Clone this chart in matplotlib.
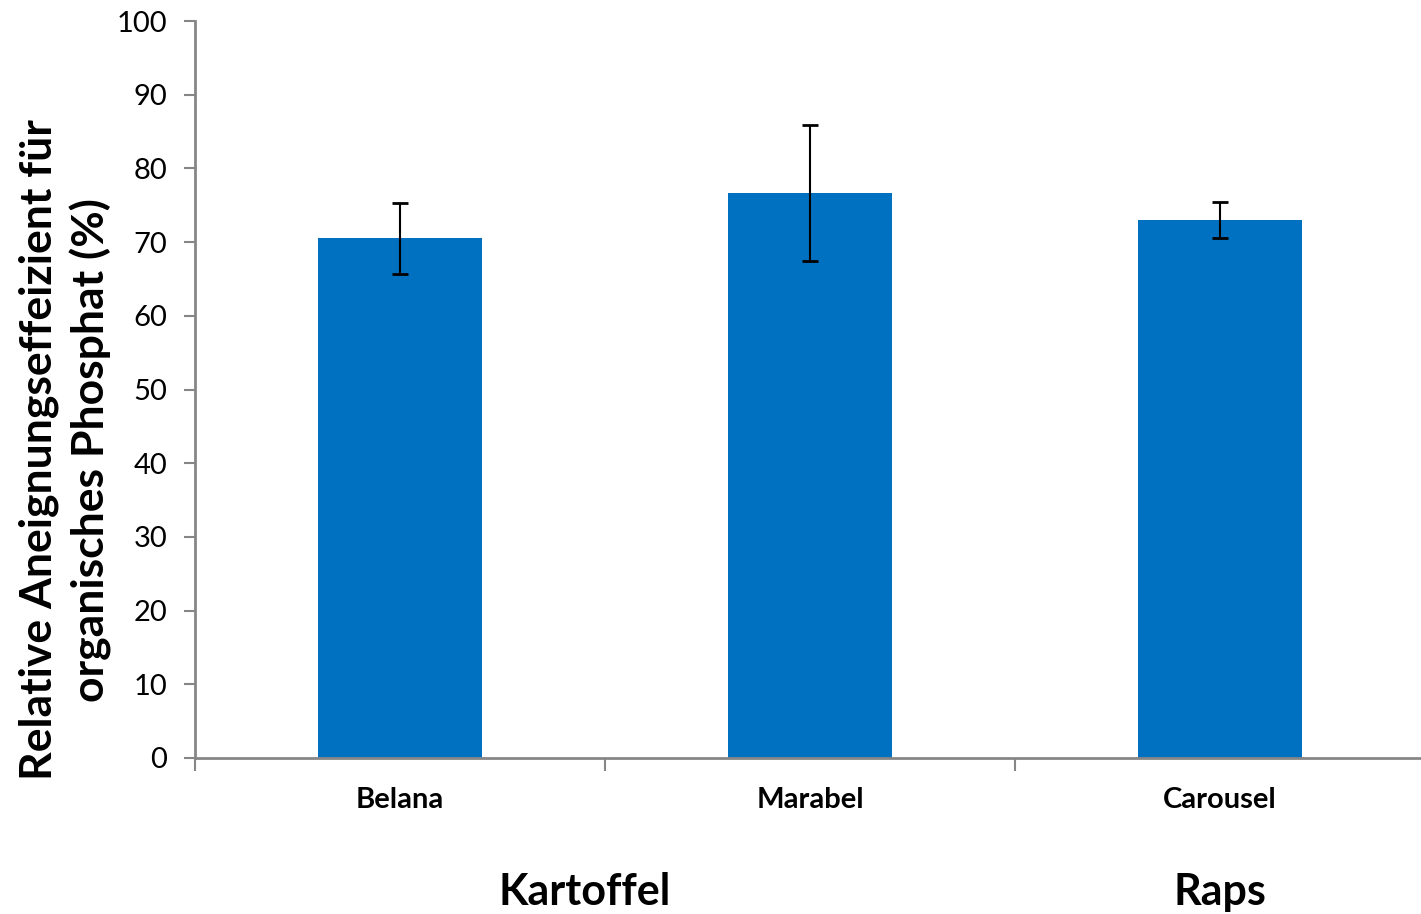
import numpy as np
import matplotlib
matplotlib.use("Agg")
import matplotlib.pyplot as plt

plt.rcParams['font.family'] = ['Lato', 'DejaVu Sans']

# data
sorten = ['Belana', 'Marabel', 'Carousel']
werte = [70.5, 76.7, 73.0]
fehler = [4.85, 9.25, 2.4]
gruppen = ['Kartoffel', 'Raps']
gruppen_pos = [0.45, 2.0]
yticks = [0, 10, 20, 30, 40, 50, 60, 70, 80, 90, 100]

grau = '#868686'

fig = plt.figure(figsize=(14.21, 9.14), dpi=100)
ax = fig.add_axes([195 / 1421, 0.1707, 1230 / 1421, 0.8063])

x = np.arange(len(sorten))
ax.bar(x, werte, width=0.4, color='#0070C0', zorder=2)
ax.errorbar(x, werte, yerr=fehler, fmt='none', ecolor='black', elinewidth=1.5,
            capsize=6, capthick=2, zorder=3)

ax.set_xlim(-0.5, 2.5)
ax.set_ylim(0, 100)
ax.set_yticks(yticks)
ax.tick_params(axis='y', labelsize=21, length=8, width=1.5, color=grau, pad=12)

# category labels, ticks on boundaries
ax.set_xticks(x)
ax.set_xticklabels(sorten, fontsize=21, fontweight='bold')
ax.tick_params(axis='x', which='major', length=0, pad=21)
ax.set_xticks([-0.5, 0.5, 1.5, 2.5], minor=True)
ax.tick_params(axis='x', which='minor', length=9, width=1.5, color=grau)

for s in ['top', 'right']:
    ax.spines[s].set_visible(False)
for s in ['left', 'bottom']:
    ax.spines[s].set_color(grau)
    ax.spines[s].set_linewidth(2)

for g, p in zip(gruppen, gruppen_pos):
    ax.text(p, -0.182, g, transform=ax.get_xaxis_transform(), ha='center', va='center',
            fontsize=31, fontweight='bold')

fig.text(65 / 1421, 1 - 450 / 914, 'Relative Aneignungseffeizient für\norganisches Phosphat (%)',
         rotation=90, ha='center', va='center', multialignment='center',
         fontsize=32, fontweight='bold', linespacing=1.3)

plt.savefig('out.png', dpi=100)
